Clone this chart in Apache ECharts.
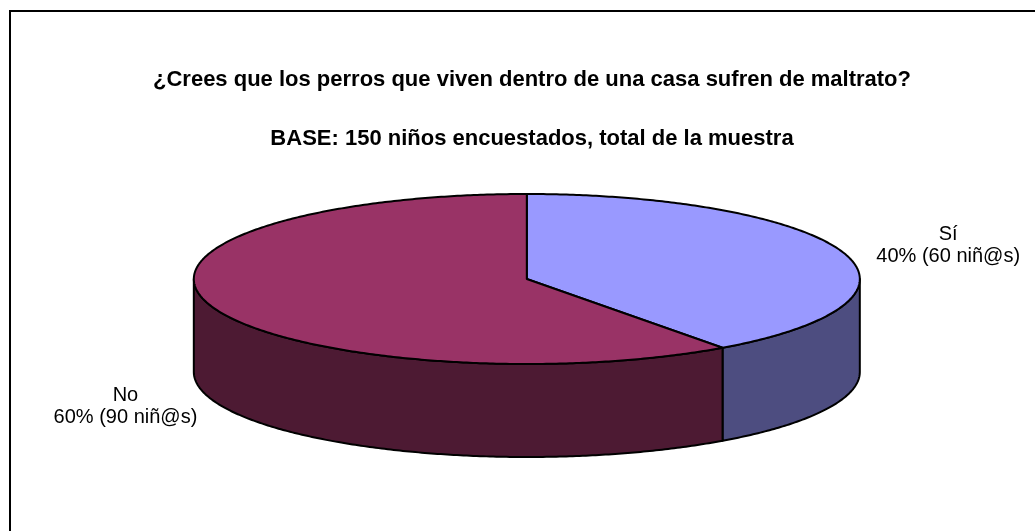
<!DOCTYPE html>
<html>
<head>
<meta charset="utf-8">
<script src="https://cdn.jsdelivr.net/npm/echarts@6/dist/echarts.min.js"></script>
<style>
  html, body { margin: 0; padding: 0; background: #fff; }
  #chart { width: 1035px; height: 531px; }
</style>
</head>
<body>
<div id="chart"></div>
<script>
// datos de la encuesta
const categories = ['Sí', 'No'];
const counts = [60, 90];
const topColors = ['#9999FF', '#993366'];
const sideColors = ['#4D4D80', '#4D1A33'];

const total = counts.reduce((a, b) => a + b, 0);
const labelFont = '20px Arial, "Liberation Sans", sans-serif';

// medir ancho del texto para colocar las etiquetas
const measureCtx = document.createElement('canvas').getContext('2d');
function textWidth(str) {
  measureCtx.font = labelFont;
  return Math.max.apply(null, str.split('\n').map(s => measureCtx.measureText(s).width));
}

function renderSlice(params, api) {
  const i = params.dataIndex;
  const cx = api.getWidth() * 0.509, cy = 279;
  const rx = 333, ry = 85, depth = 93;
  let start = 0;
  for (let j = 0; j < i; j++) start += counts[j];
  const a0 = start / total * Math.PI * 2;
  const a1 = (start + counts[i]) / total * Math.PI * 2;

  const pt = (t, dy) => [cx + rx * Math.sin(t), cy - ry * Math.cos(t) + (dy || 0)];
  const arc = (from, to, dy) => {
    const n = Math.max(2, Math.ceil(Math.abs(to - from) / 0.01));
    const out = [];
    for (let k = 0; k <= n; k++) out.push(pt(from + (to - from) * k / n, dy));
    return out;
  };

  const children = [];
  // lado visible (mitad delantera)
  const s0 = Math.max(a0, Math.PI / 2), s1 = Math.min(a1, Math.PI * 1.5);
  if (s1 > s0) {
    children.push({
      type: 'polygon', z2: 1,
      shape: { points: arc(s0, s1, 0).concat(arc(s1, s0, depth)) },
      style: { fill: sideColors[i], stroke: '#000', lineWidth: 2, lineJoin: 'round' }
    });
  }
  // cara superior
  children.push({
    type: 'polygon', z2: 5,
    shape: { points: [[cx, cy]].concat(arc(a0, a1, 0)) },
    style: { fill: topColors[i], stroke: '#000', lineWidth: 2, lineJoin: 'round' }
  });

  // etiqueta
  const pct = Math.round(counts[i] / total * 100);
  const txt = categories[i] + '\n' + pct + '% (' + counts[i] + ' niñ@s)';
  const m = (a0 + a1) / 2;
  const sx = Math.sin(m), cm = Math.cos(m);
  const w = textWidth(txt);
  const lx = cx + sx * (rx + 24) + (sx >= 0 ? 1 : -1) * w / 2 + 10;
  const ly = cy - cm * (ry + 25) + (cm < 0 ? depth : 0);
  children.push({
    type: 'text', z2: 10,
    style: {
      text: txt, x: lx, y: ly, align: 'center', verticalAlign: 'middle',
      font: labelFont, lineHeight: 22, fill: '#000'
    }
  });

  return { type: 'group', children: children };
}

const chart = echarts.init(document.getElementById('chart'));
const option = {
  animation: false,
  backgroundColor: '#fff',
  title: {
    text: '¿Crees que los perros que viven dentro de una casa sufren de maltrato?',
    subtext: 'BASE: 150 niños encuestados, total de la muestra',
    left: 527,
    textAlign: 'center',
    top: 64,
    itemGap: 37,
    textStyle: { fontFamily: 'Arial', fontWeight: 'bold', fontSize: 22, color: '#000' },
    subtextStyle: { fontFamily: 'Arial', fontWeight: 'bold', fontSize: 22, color: '#000' }
  },
  graphic: [{
    type: 'rect',
    shape: { x: 10, y: 11, width: 1040, height: 540 },
    style: { fill: 'none', stroke: '#000', lineWidth: 2 },
    silent: true
  }],
  series: [{
    type: 'custom',
    coordinateSystem: 'none',
    data: counts,
    renderItem: renderSlice
  }]
};
chart.setOption(option);
</script>
</body>
</html>
